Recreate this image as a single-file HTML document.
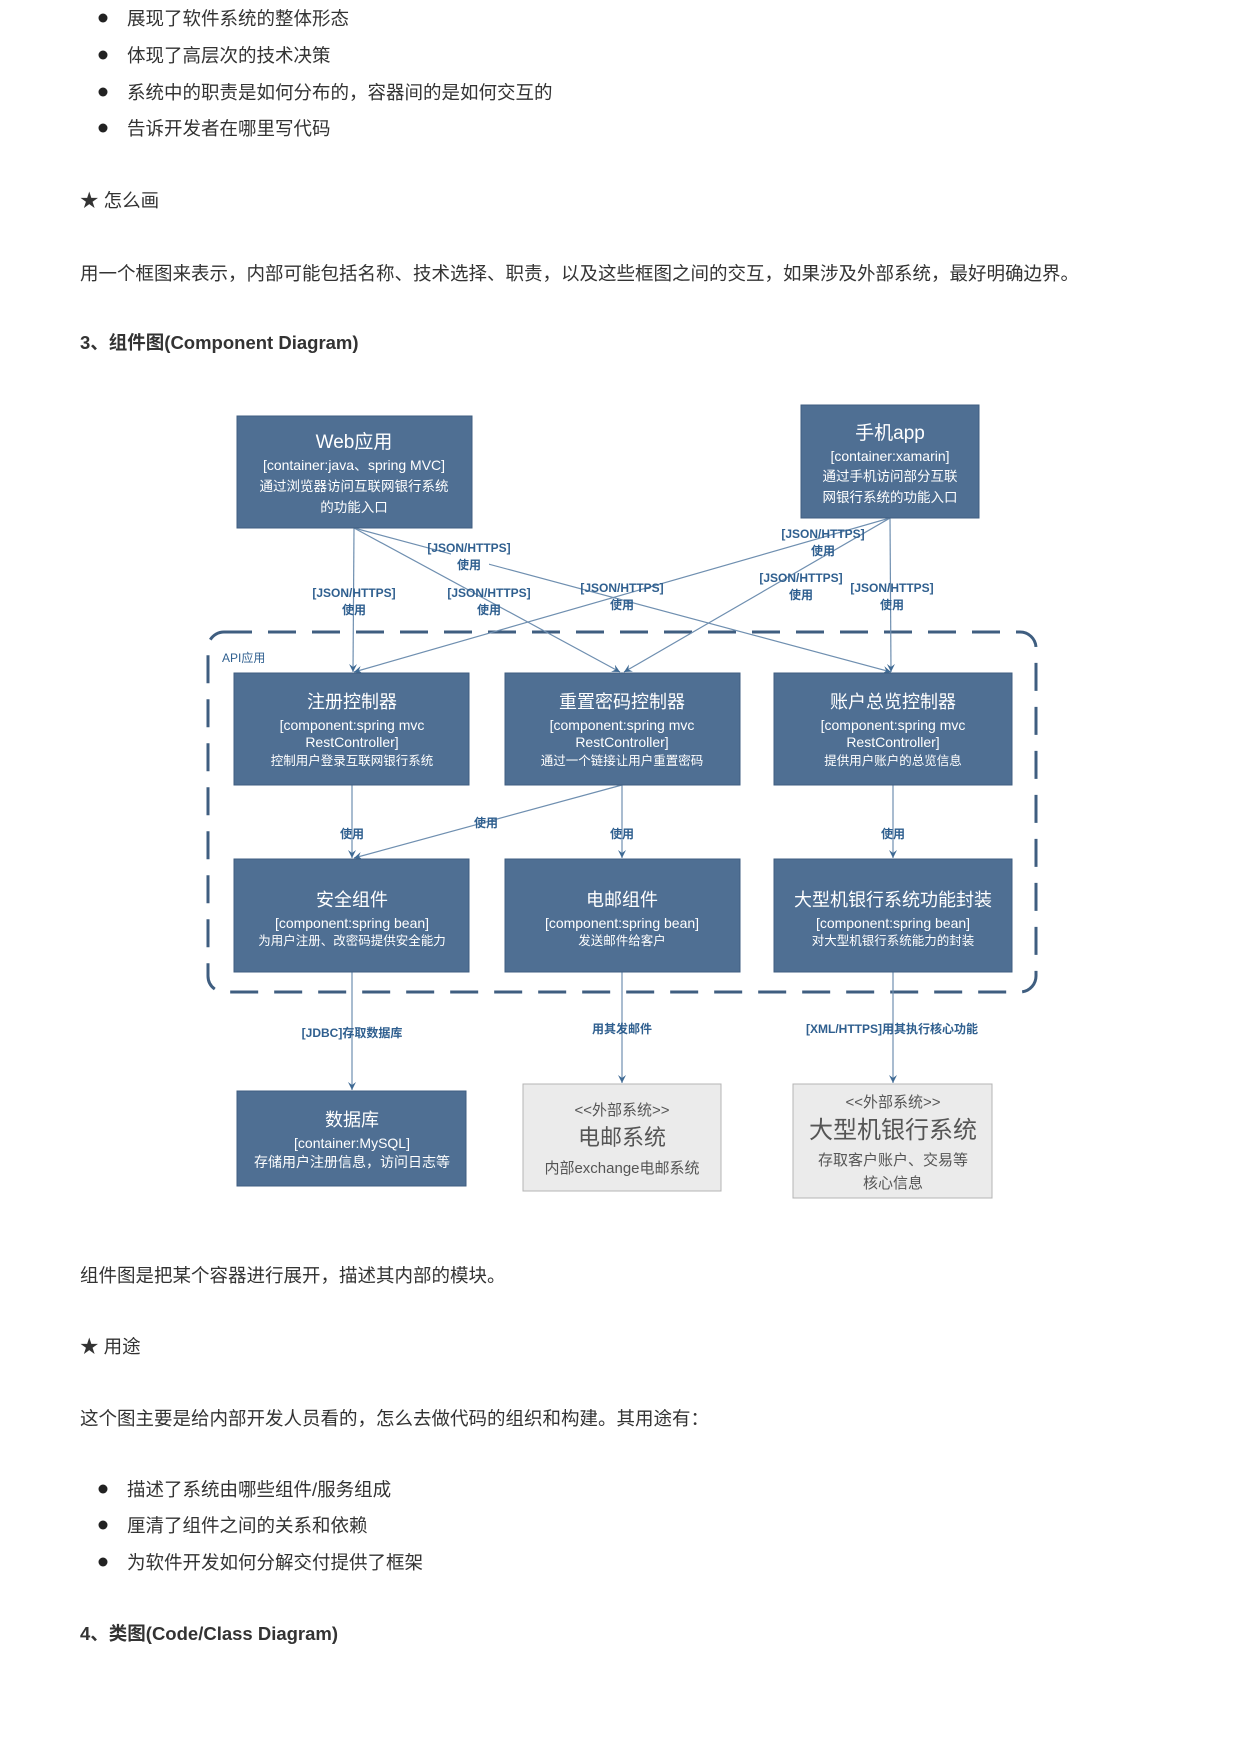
<!DOCTYPE html>
<html><head><meta charset="utf-8"><style>
html,body{margin:0;padding:0;background:#fff;width:1240px;height:1754px;overflow:hidden;}
svg{position:absolute;left:0;top:0;}
.t{font-family:"Liberation Sans","Noto Sans CJK SC",sans-serif;fill:#333;font-size:18.5px;}
.b{font-weight:bold;}
.bx{fill:#4f6f93;stroke:#3f5e80;stroke-width:1;}
.ex{fill:#ebebeb;stroke:#b5b5b5;stroke-width:1;}
.w{font-family:"Liberation Sans","Noto Sans CJK SC",sans-serif;fill:#fff;text-anchor:middle;}
.g{font-family:"Liberation Sans","Noto Sans CJK SC",sans-serif;fill:#555;text-anchor:middle;}
.l{font-family:"Liberation Sans","Noto Sans CJK SC",sans-serif;fill:#2f5f8f;font-size:12px;text-anchor:middle;font-weight:bold;}
.ln{stroke:#6f8fb0;stroke-width:1.2;fill:none;marker-end:url(#a);}
</style></head><body>
<svg width="1240" height="1754" viewBox="0 0 1240 1754">
<defs><marker id="a" markerWidth="10" markerHeight="10" refX="8" refY="4" orient="auto" markerUnits="userSpaceOnUse"><path d="M0,0 L8,4 L0,8 L3,4 z" fill="#3f6a94"/></marker></defs>
<circle cx="103" cy="18" r="4.5" fill="#222"/><text class="t" x="127" y="25">展现了软件系统的整体形态</text>
<circle cx="103" cy="55" r="4.5" fill="#222"/><text class="t" x="127" y="62">体现了高层次的技术决策</text>
<circle cx="103" cy="92" r="4.5" fill="#222"/><text class="t" x="127" y="99">系统中的职责是如何分布的，容器间的是如何交互的</text>
<circle cx="103" cy="128" r="4.5" fill="#222"/><text class="t" x="127" y="135">告诉开发者在哪里写代码</text>
<text class="t" x="80" y="207">★ 怎么画</text>
<text class="t" x="80" y="280">用一个框图来表示，内部可能包括名称、技术选择、职责，以及这些框图之间的交互，如果涉及外部系统，最好明确边界。</text>
<text class="t b" x="80" y="349">3、组件图(Component Diagram)</text>

<rect x="208" y="632" width="828" height="360" rx="16" fill="none" stroke="#3f5e80" stroke-width="3" stroke-dasharray="28,16"/>
<text class="l" x="222" y="662" style="text-anchor:start;font-weight:normal">API应用</text>

<line class="ln" x1="354" y1="528" x2="353" y2="672"/>
<line class="ln" x1="354" y1="528" x2="620" y2="672"/>
<line class="ln" x1="354" y1="528" x2="891" y2="672"/>
<line class="ln" x1="890" y1="518" x2="354" y2="672"/>
<line class="ln" x1="890" y1="518" x2="624" y2="672"/>
<line class="ln" x1="890" y1="518" x2="891" y2="672"/>
<line class="ln" x1="352" y1="785" x2="352" y2="858"/>
<line class="ln" x1="622" y1="785" x2="354" y2="858"/>
<line class="ln" x1="622" y1="785" x2="622" y2="858"/>
<line class="ln" x1="893" y1="785" x2="893" y2="858"/>
<line class="ln" x1="352" y1="972" x2="352" y2="1090"/>
<line class="ln" x1="622" y1="972" x2="622" y2="1083"/>
<line class="ln" x1="893" y1="972" x2="893" y2="1083"/>

<rect x="451" y="542" width="38" height="28" fill="#fff"/>
<text class="l" x="354" y="597">[JSON/HTTPS]</text><text class="l" x="354" y="614">使用</text>
<text class="l" x="469" y="552">[JSON/HTTPS]</text><text class="l" x="469" y="569">使用</text>
<text class="l" x="489" y="597">[JSON/HTTPS]</text><text class="l" x="489" y="614">使用</text>
<text class="l" x="622" y="592">[JSON/HTTPS]</text><text class="l" x="622" y="609">使用</text>
<text class="l" x="823" y="538">[JSON/HTTPS]</text><text class="l" x="823" y="555">使用</text>
<text class="l" x="801" y="582">[JSON/HTTPS]</text><text class="l" x="801" y="599">使用</text>
<text class="l" x="892" y="592">[JSON/HTTPS]</text><text class="l" x="892" y="609">使用</text>
<text class="l" x="352" y="838">使用</text><text class="l" x="486" y="827">使用</text>
<text class="l" x="622" y="838">使用</text><text class="l" x="893" y="838">使用</text>
<text class="l" x="352" y="1037">[JDBC]存取数据库</text>
<text class="l" x="622" y="1033">用其发邮件</text>
<text class="l" x="892" y="1033">[XML/HTTPS]用其执行核心功能</text>

<rect class="bx" x="237" y="416" width="235" height="112"/>
<text class="w" x="354" y="448" font-size="19">Web应用</text>
<text class="w" x="354" y="470" font-size="14">[container:java、spring MVC]</text>
<text class="w" x="354" y="491" font-size="13.5">通过浏览器访问互联网银行系统</text>
<text class="w" x="354" y="512" font-size="13.5">的功能入口</text>

<rect class="bx" x="801" y="405" width="178" height="113"/>
<text class="w" x="890" y="439" font-size="19">手机app</text>
<text class="w" x="890" y="461" font-size="14">[container:xamarin]</text>
<text class="w" x="890" y="481" font-size="13.5">通过手机访问部分互联</text>
<text class="w" x="890" y="502" font-size="13.5">网银行系统的功能入口</text>

<rect class="bx" x="234" y="673" width="235" height="112"/>
<text class="w" x="352" y="708" font-size="18">注册控制器</text>
<text class="w" x="352" y="730" font-size="14">[component:spring mvc</text>
<text class="w" x="352" y="747" font-size="14">RestController]</text>
<text class="w" x="352" y="765" font-size="12.5">控制用户登录互联网银行系统</text>

<rect class="bx" x="505" y="673" width="235" height="112"/>
<text class="w" x="622" y="708" font-size="18">重置密码控制器</text>
<text class="w" x="622" y="730" font-size="14">[component:spring mvc</text>
<text class="w" x="622" y="747" font-size="14">RestController]</text>
<text class="w" x="622" y="765" font-size="12.5">通过一个链接让用户重置密码</text>

<rect class="bx" x="774" y="673" width="238" height="112"/>
<text class="w" x="893" y="708" font-size="18">账户总览控制器</text>
<text class="w" x="893" y="730" font-size="14">[component:spring mvc</text>
<text class="w" x="893" y="747" font-size="14">RestController]</text>
<text class="w" x="893" y="765" font-size="12.5">提供用户账户的总览信息</text>

<rect class="bx" x="234" y="859" width="235" height="113"/>
<text class="w" x="352" y="906" font-size="18">安全组件</text>
<text class="w" x="352" y="928" font-size="14">[component:spring bean]</text>
<text class="w" x="352" y="945" font-size="12.5">为用户注册、改密码提供安全能力</text>

<rect class="bx" x="505" y="859" width="235" height="113"/>
<text class="w" x="622" y="906" font-size="18">电邮组件</text>
<text class="w" x="622" y="928" font-size="14">[component:spring bean]</text>
<text class="w" x="622" y="945" font-size="12.5">发送邮件给客户</text>

<rect class="bx" x="774" y="859" width="238" height="113"/>
<text class="w" x="893" y="906" font-size="18">大型机银行系统功能封装</text>
<text class="w" x="893" y="928" font-size="14">[component:spring bean]</text>
<text class="w" x="893" y="945" font-size="12.5">对大型机银行系统能力的封装</text>

<rect class="bx" x="237" y="1091" width="229" height="95"/>
<text class="w" x="352" y="1126" font-size="18">数据库</text>
<text class="w" x="352" y="1148" font-size="14">[container:MySQL]</text>
<text class="w" x="352" y="1167" font-size="14">存储用户注册信息，访问日志等</text>

<rect class="ex" x="523" y="1084" width="198" height="107"/>
<text class="g" x="622" y="1115" font-size="15">&lt;&lt;外部系统&gt;&gt;</text>
<text class="g" x="622" y="1145" font-size="22">电邮系统</text>
<text class="g" x="622" y="1173" font-size="15">内部exchange电邮系统</text>

<rect class="ex" x="793" y="1084" width="199" height="114"/>
<text class="g" x="893" y="1107" font-size="15">&lt;&lt;外部系统&gt;&gt;</text>
<text class="g" x="893" y="1138" font-size="24">大型机银行系统</text>
<text class="g" x="893" y="1165" font-size="15">存取客户账户、交易等</text>
<text class="g" x="893" y="1188" font-size="15">核心信息</text>

<text class="t" x="80" y="1282">组件图是把某个容器进行展开，描述其内部的模块。</text>
<text class="t" x="80" y="1353">★ 用途</text>
<text class="t" x="80" y="1425">这个图主要是给内部开发人员看的，怎么去做代码的组织和构建。其用途有：</text>
<circle cx="103" cy="1489" r="4.5" fill="#222"/><text class="t" x="127" y="1496">描述了系统由哪些组件/服务组成</text>
<circle cx="103" cy="1525" r="4.5" fill="#222"/><text class="t" x="127" y="1532">厘清了组件之间的关系和依赖</text>
<circle cx="103" cy="1562" r="4.5" fill="#222"/><text class="t" x="127" y="1569">为软件开发如何分解交付提供了框架</text>
<text class="t b" x="80" y="1640">4、类图(Code/Class Diagram)</text>
</svg>
</body></html>
